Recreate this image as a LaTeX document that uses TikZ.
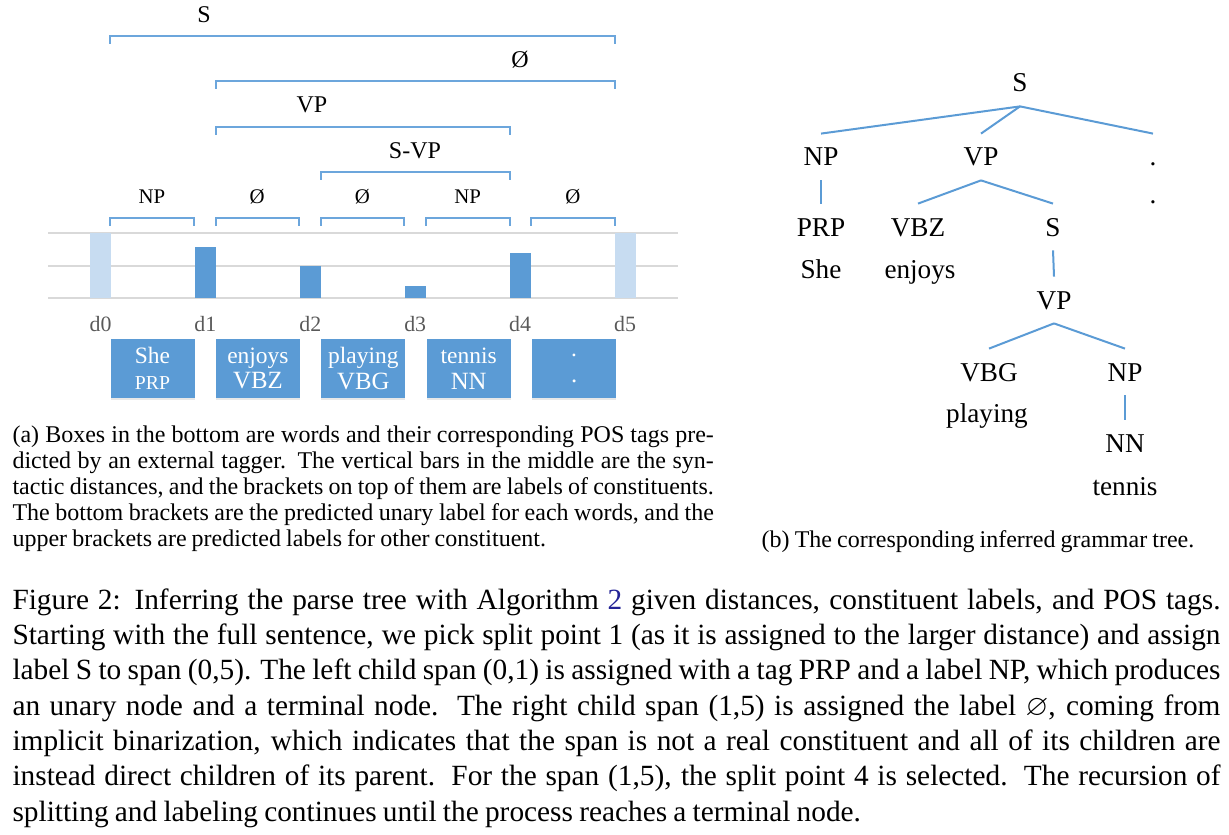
\documentclass[tikz,border=0pt]{standalone}
\usepackage{amssymb}
\usepackage{fontspec}
\setmainfont{Liberation Serif}[WordSpace={0.85,1,1.5}]
\usepackage{xcolor}
\usepackage{tikz}
\usetikzlibrary{shadows}
\definecolor{boxblue}{RGB}{91,155,213}
\definecolor{barlight}{RGB}{199,220,241}
\definecolor{brkblue}{RGB}{108,166,220}
\definecolor{gridgray}{RGB}{217,217,217}
\definecolor{dgray}{RGB}{89,89,89}
\definecolor{linkblue}{RGB}{35,35,150}

\begin{document}
\begin{tikzpicture}[x=0.375pt, y=-0.375pt,
  ulbl/.style={inner sep=0pt, font=\fontsize{9}{10}\selectfont},
  blbl/.style={inner sep=0pt, font=\fontsize{7.8}{9}\selectfont},
  brk/.style={draw=brkblue, line width=0.6pt},
  dlbl/.style={inner sep=0pt, text=dgray, font=\fontsize{8.2}{9}\selectfont},
  word/.style={fill=boxblue, text=white, align=center, inner sep=0pt,
  minimum width=31.5pt, minimum height=22.1pt,
  drop shadow={opacity=0.18, shadow xshift=0pt, shadow yshift=-0.8pt}},
  tn/.style={inner xsep=1pt, inner ysep=5.2pt, text height=6.75pt, text depth=0pt,
  font=\fontsize{10.2}{12}\selectfont},
  edge/.style={draw=boxblue, line width=0.75pt},
  figcap/.style={inner sep=0pt, align=justify, font=\fontsize{11}{13.25}\selectfont},
  subcap/.style={inner sep=0pt, font=\fontsize{9}{9.75}\selectfont}]
\useasboundingbox (0,0) rectangle (1229,834);

% distance chart
\foreach \y in {233,266,298}
  \draw[gridgray, line width=0.5pt] (48,\y) -- (678,\y);
\foreach \i/\h/\c in {0/233/barlight, 1/247/boxblue, 2/266/boxblue,
  3/286/boxblue, 4/253/boxblue, 5/233/barlight} {
  \pgfmathsetmacro{\xc}{100.5+104.9*\i}
  \fill[\c] (\xc-10.5,\h) rectangle (\xc+10.5,298);
  \node[dlbl] (d\i) at (\xc,324) {d\i};
}

% brackets
\foreach \a/\b/\y in {110/615/36, 216/615/81, 216/510/127, 321/510/172,
  110/194/218, 216/299/218, 321/404/218, 426/510/218, 531/615/218}
  \draw[brk] (\a,\y+8) -- (\a,\y) -- (\b,\y) -- (\b,\y+8);
\node[ulbl] (lS) at (204,15) {S};
\node[ulbl] (lnull) at (520,60) {Ø};
\node[ulbl] (lVP) at (312,105) {VP};
\node[ulbl] (lSVP) at (415,151) {S-VP};
\foreach \i/\t in {0/NP, 1/Ø, 2/Ø, 3/NP, 4/Ø}
  \node[blbl] (b\i) at (152+105.2*\i,197) {\t};

% words and tags
\foreach \i/\w/\t in {0/She/{\fontsize{7.4}{9}\selectfont PRP}, 1/enjoys/VBZ,
  2/playing/VBG, 3/tennis/NN, 4/./.}
  \node[word] (w\i) at (152.5+105.4*\i,368.5)
  {\fontsize{8.8}{9.75}\selectfont \w\\[-2.4pt]\fontsize{9.3}{9.75}\selectfont \t};

% grammar tree
\node[tn] (tS) at (1020,83) {S};
\node[tn] (tNP) at (821,157) {NP};
\node[tn] (tVP) at (981,157) {VP};
\node[tn] (tdot) at (1153,157) {.};
\node[tn] (tdotb) at (1153,195) {.};
\node[tn] (tPRP) at (821,227) {PRP};
\node[tn] (tShe) at (821,270) {She};
\node[tn] (tVBZ) at (918,227) {VBZ};
\node[tn] (tenjoys) at (920,270) {enjoys};
\node[tn] (tSb) at (1053,227) {S};
\node[tn] (tVPb) at (1054,300) {VP};
\node[tn] (tVBG) at (989,372) {VBG};
\node[tn] (tplaying) at (987,413) {playing};
\node[tn] (tNPb) at (1125,372) {NP};
\node[tn] (tNN) at (1125,443) {NN};
\node[tn] (ttennis) at (1125,486) {tennis};
\draw[edge] (tS.south) -- (tNP.north);
\draw[edge] (tS.south) -- (tVP.north);
\draw[edge] (tS.south) -- (tdot.north);
\draw[edge] (tNP.south) -- (tPRP.north);
\draw[edge] (tVP.south) -- (tVBZ.north);
\draw[edge] (tVP.south) -- (tSb.north);
\draw[edge] (tSb.south) -- (tVPb.north);
\draw[edge] (tVPb.south) -- (tVBG.north);
\draw[edge] (tVPb.south) -- (tNPb.north);
\draw[edge] (tNPb.south) -- (tNN.north);

% captions
\node[subcap, text width=263pt, align=justify, anchor=base west] (capa) at (12,442)
{(a) Boxes in the bottom are words and their corresponding POS tags pre-\linebreak
dicted by an external tagger. The vertical bars in the middle are the syn-\linebreak
tactic distances, and the brackets on top of them are labels of constituents.\linebreak
The bottom brackets are the predicted unary label for each words, and the\linebreak
upper brackets are predicted labels for other constituent.};
\node[subcap, anchor=base] (capb) at (978,547)
{(b) The corresponding inferred grammar tree.};
\node[figcap, text width=453pt, anchor=base west] (fig) at (12,609)
{Figure 2: Inferring the parse tree with Algorithm {\color{linkblue}2} given distances, constituent labels, and POS tags.\linebreak
Starting with the full sentence, we pick split point 1 (as it is assigned to the larger distance) and assign\linebreak
label S to span (0,5). The left child span (0,1) is assigned with a tag PRP and a label NP, which produces\linebreak
an unary node and a terminal node. The right child span (1,5) is assigned the label $\varnothing$, coming from\linebreak
implicit binarization, which indicates that the span is not a real constituent and all of its children are\linebreak
instead direct children of its parent. For the span (1,5), the split point 4 is selected. The recursion of\linebreak
splitting and labeling continues until the process reaches a terminal node.};
\end{tikzpicture}
\end{document}
